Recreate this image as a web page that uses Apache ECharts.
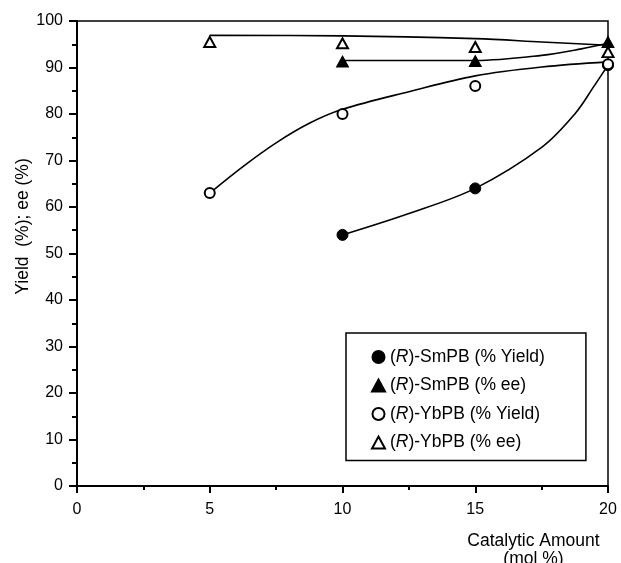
<!DOCTYPE html>
<html>
<head>
<meta charset="utf-8">
<script src="https://cdn.jsdelivr.net/npm/echarts@6/dist/echarts.min.js"></script>
<style>html,body{margin:0;padding:0;background:#fff}#c{width:621px;height:563px}</style>
</head>
<body>
<div id="c"></div>
<script>
// Measured points
const amounts = [5, 10, 15, 20];
const smpbYield = [null, 54, 64, 90.5];
const smpbEE = [null, 91.3, 91.4, 95.5];
const ybpbYield = [63, 80, 86, 90.7];
const ybpbEE = [95.5, 95.2, 94.4, 93.3];

// Fitted curves as drawn in the figure
const smpbYieldFitX = [10, 12.5, 15, 17.5, 18.75, 19.5, 20];
const smpbYieldFitY = [54, 58.6, 64, 72.8, 80, 86.2, 90.5];
const smpbEEFitX = [10, 15, 17.5, 19, 20];
const smpbEEFitY = [91.5, 91.5, 92.6, 94, 95.2];
const ybpbYieldFitX = [5, 6.25, 7.5, 8.75, 10, 12.5, 15, 17.5, 20];
const ybpbYieldFitY = [63, 68.7, 73.8, 78, 81, 84.8, 88.2, 90.1, 91.2];
const ybpbEEFitX = [5, 10, 15, 17.5, 20];
const ybpbEEFitY = [96.9, 96.8, 96.2, 95.5, 94.8];

const xTicks = [0, 5, 10, 15, 20];
const yTicks = [0, 10, 20, 30, 40, 50, 60, 70, 80, 90, 100];

const names = ['SmPB (% Yield)', 'SmPB (% ee)', 'YbPB (% Yield)', 'YbPB (% ee)'];

function pairs(xs, ys) { return xs.map((x, i) => [x, ys[i]]).filter(p => p[1] != null); }

const FONT = '"Liberation Sans", Arial, Helvetica, sans-serif';
const chart = echarts.init(document.getElementById('c'));

const fitLine = (xs, ys) => ({
  type: 'line', data: pairs(xs, ys), smooth: 0.35,
  showSymbol: false, silent: true, lineStyle: { color: '#000', width: 1.6 }, z: 2
});

chart.setOption({
  animation: false,
  backgroundColor: '#fff',
  grid: { left: 77, right: 13, top: 21, bottom: 77, show: true, borderColor: '#000', borderWidth: 1.5,
    containLabel: false, outerBoundsMode: 'none' },
  xAxis: {
    type: 'value', min: 0, max: 20, interval: 5,
    axisLine: { lineStyle: { color: '#000', width: 2 } },
    axisTick: { length: 7, lineStyle: { color: '#000', width: 2 } },
    minorTick: { show: true, splitNumber: 2, length: 4, lineStyle: { color: '#000', width: 2 } },
    splitLine: { show: false },
    axisLabel: { color: '#000', fontSize: 16, fontFamily: FONT, margin: 16,
      formatter: v => xTicks.includes(v) ? String(v) : '' },
    name: 'Catalytic Amount\n(mol %)', nameLocation: 'middle', nameGap: 46, nameMoveOverlap: false,
    nameTextStyle: { color: '#000', fontSize: 17.5, fontFamily: FONT, lineHeight: 18, padding: [0, 0, 0, 382] }
  },
  yAxis: {
    type: 'value', min: 0, max: 100, interval: 10,
    axisLine: { lineStyle: { color: '#000', width: 2 } },
    axisTick: { length: 8, lineStyle: { color: '#000', width: 2 } },
    minorTick: { show: true, splitNumber: 2, length: 5, lineStyle: { color: '#000', width: 2 } },
    splitLine: { show: false },
    axisLabel: { color: '#000', fontSize: 16, fontFamily: FONT, margin: 14,
      formatter: v => yTicks.includes(v) ? String(v) : '' },
    name: 'Yield  (%); ee (%)', nameLocation: 'middle', nameGap: 45, nameMoveOverlap: false,
    nameTextStyle: { color: '#000', fontSize: 17.5, fontFamily: FONT, padding: [0, 0, 0, 54] }
  },
  legend: {
    orient: 'vertical', left: 346, top: 333,
    data: names,
    padding: [14, 41, 8, 25], itemGap: 8.5, itemWidth: 13, itemHeight: 12,
    borderColor: '#000', borderWidth: 1.5, backgroundColor: '#fff',
    formatter: n => '({i|R})-' + n,
    textStyle: { color: '#000', fontSize: 17.5, fontFamily: FONT, lineHeight: 20,
      rich: { i: { fontStyle: 'italic', fontSize: 17.5, fontFamily: FONT, color: '#000' } } }
  },
  series: [
    fitLine(smpbYieldFitX, smpbYieldFitY),
    fitLine(smpbEEFitX, smpbEEFitY),
    fitLine(ybpbYieldFitX, ybpbYieldFitY),
    fitLine(ybpbEEFitX, ybpbEEFitY),
    { name: names[0], type: 'scatter', data: pairs(amounts, smpbYield), symbol: 'circle', symbolSize: 11,
      itemStyle: { color: '#000', borderColor: '#000', borderWidth: 1, opacity: 1 }, z: 3 },
    { name: names[2], type: 'scatter', data: pairs(amounts, ybpbYield), symbol: 'circle', symbolSize: 10,
      itemStyle: { color: '#fff', borderColor: '#000', borderWidth: 2, opacity: 1 }, z: 4 },
    { name: names[3], type: 'scatter', data: pairs(amounts, ybpbEE), symbol: 'triangle', symbolSize: [11, 10],
      itemStyle: { color: '#fff', borderColor: '#000', borderWidth: 2, opacity: 1 }, z: 5 },
    { name: names[1], type: 'scatter', data: pairs(amounts, smpbEE), symbol: 'triangle', symbolSize: [12, 11],
      itemStyle: { color: '#000', borderColor: '#000', borderWidth: 1, opacity: 1 }, z: 6 }
  ]
});
</script>
</body>
</html>
